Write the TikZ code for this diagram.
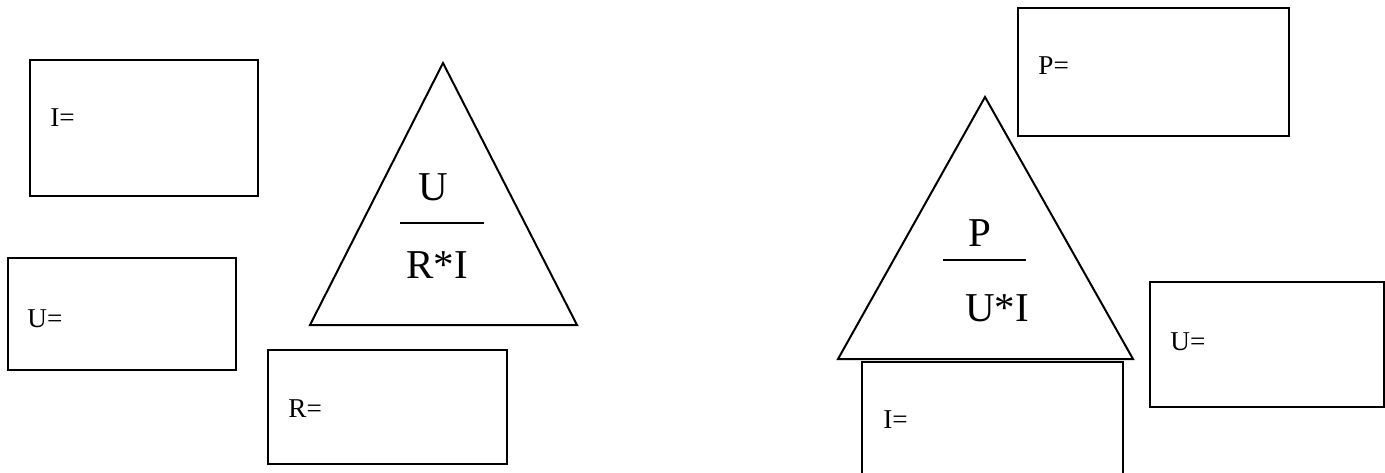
\documentclass[tikz,border=0pt]{standalone}
\usepackage{fontspec}
\setmainfont{Liberation Serif}
\tikzset{
  outline/.style={draw=black, line width=1pt},
  fracbar/.style={draw=black, line width=0.9pt},
  boxlabel/.style={anchor=base west, inner sep=0pt, font=\fontsize{13.6}{16}\selectfont},
  formula/.style={anchor=base, inner sep=0pt, font=\fontsize{20.5}{24}\selectfont},
}
\begin{document}
\begin{tikzpicture}[x=0.5pt, y=-0.5pt]

\clip (0,0) rectangle (1385,472);
\fill[white] (0,0) rectangle (1385,472);

%% ─── OHM TRIANGLE ───────────────────────────────────────────
\draw[outline] (30,60) rectangle (258,196);
\node[boxlabel] (ileft) at (50,126) {I=};

\draw[outline] (8,258) rectangle (236,370);
\node[boxlabel] (uleft) at (27,327) {U=};

\draw[outline] (268,350) rectangle (507,464);
\node[boxlabel] (rleft) at (288,417) {R=};

\draw[outline] (443,63) -- (310,325) -- (577,325) -- cycle;
\node[formula] (utop) at (433,200) {U};
\draw[fracbar] (400,223) -- (484,223);
\node[formula] (ribot) at (437,278) {R*I};

%% ─── POWER TRIANGLE ─────────────────────────────────────────
\draw[outline] (1018,8) rectangle (1289,136);
\node[boxlabel] (pright) at (1038,74) {P=};

\draw[outline] (985,97) -- (838,359) -- (1133,359) -- cycle;
\node[formula] (ptop) at (980,246) {P};
\draw[fracbar] (943,260) -- (1026,260);
\node[formula] (uibot) at (997,321) {U*I};

\draw[outline] (862,362) rectangle (1123,482);
\node[boxlabel] (iright) at (883,428) {I=};

\draw[outline] (1150,282) rectangle (1384,407);
\node[boxlabel] (uright) at (1170,350) {U=};

\end{tikzpicture}
\end{document}
